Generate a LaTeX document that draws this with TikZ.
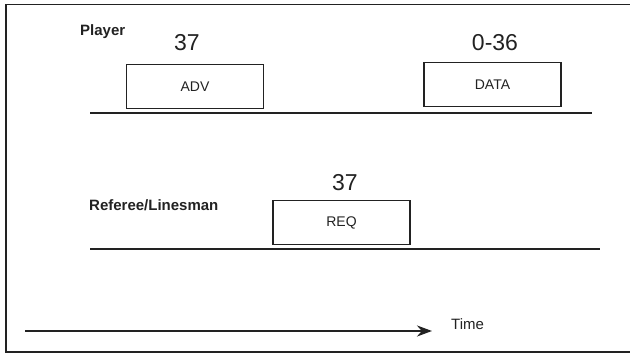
\documentclass[tikz,border=0pt]{standalone}
\usepackage{fontspec}
\setmainfont{Liberation Sans}
\usetikzlibrary{arrows.meta}
\definecolor{ink}{HTML}{222222}
\begin{document}
\begin{tikzpicture}[x=1pt,y=-1pt,
  framebox/.style={draw=ink,line width=1.4pt,minimum width=137pt,minimum height=44pt,inner sep=0pt,font=\fontsize{14}{16}\selectfont,text=ink},
  lane/.style={draw=ink,line width=1.3pt},
  lanelabel/.style={font=\bfseries\fontsize{15}{17}\selectfont,text=ink,inner sep=0pt,anchor=west},
  count/.style={font=\fontsize{23}{26}\selectfont,text=ink,inner sep=0pt}]
\useasboundingbox (0,0) rectangle (630,355);
% frame
\draw[ink,line width=1.4pt] (640,4.7) -- (6,4.7) -- (6,352) -- (640,352);
% player lane
\node[lanelabel] (player) at (80,32) {Player};
\node[framebox] (adv) at (195,86.5) {ADV};
\node[framebox] (data) at (492.5,84.5) {DATA};
\node[count] (c1) at (187,43) {37};
\node[count] (c2) at (495,43) {0-36};
\coordinate (p1) at (90,113);
\coordinate (p2) at (592,113);
\draw[lane] (p1) -- (p2);
% referee lane
\node[lanelabel] (ref) at (89,205) {Referee/Linesman};
\node[framebox] (req) at (341.5,222.5) {REQ};
\node[count] (c3) at (345,183) {37};
\coordinate (r1) at (90,249);
\coordinate (r2) at (600,249);
\draw[lane] (r1) -- (r2);
% time axis
\node[font=\fontsize{15}{17}\selectfont,text=ink,inner sep=0pt,anchor=west] (time) at (451,324) {Time};
\coordinate (t1) at (25,331);
\coordinate (t2) at (432,331);
\draw[ink,line width=2.2pt,-{Stealth[length=15pt,width=11pt]}] (t1) -- (t2);
\end{tikzpicture}
\end{document}
